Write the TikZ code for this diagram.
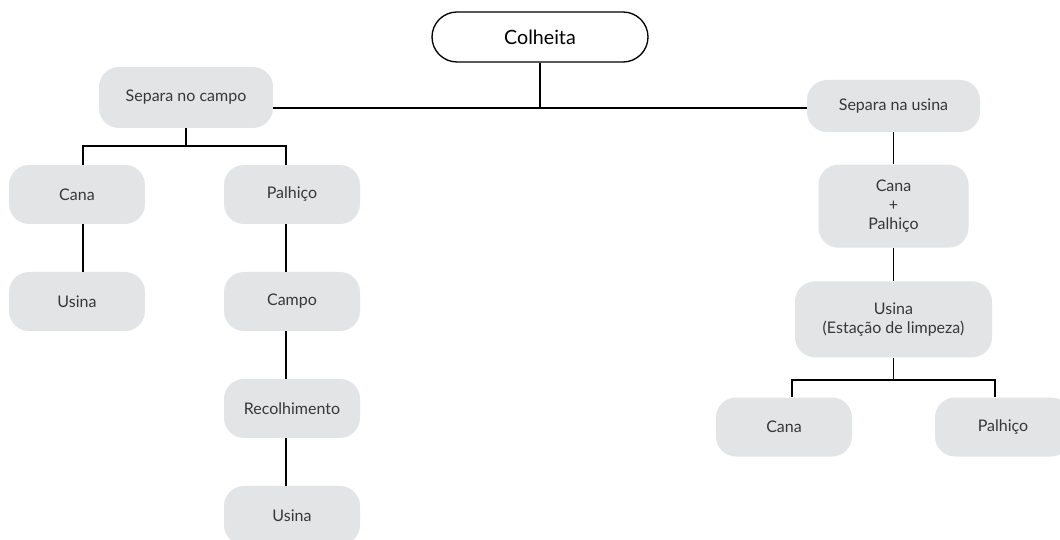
\documentclass[tikz,border=0pt]{standalone}
\usepackage{fontspec}
\setmainfont{Lato}
\usetikzlibrary{positioning}
\definecolor{boxgray}{RGB}{227, 228, 229}
\definecolor{textgray}{RGB}{55, 55, 55}

\tikzset{
  rootbox/.style={draw, line width=0.8pt, rounded corners=15pt, fill=white, text=black,
    minimum width=129.6pt, minimum height=30pt, inner sep=0pt, font=\fontsize{11.8}{13}\selectfont},
  stagebox/.style={fill=boxgray, rounded corners=12pt, text=textgray, align=center,
    minimum width=81.6pt, minimum height=35.4pt, inner sep=0pt},
  link/.style={line width=0.8pt, black}
}

\begin{document}
\begin{tikzpicture}[x=0.6pt, y=-0.6pt, node distance=28.4pt, font=\fontsize{9.6}{11.5}\selectfont]
  \useasboundingbox (0,0) rectangle (1060,540);

  % top of the tree
  \node[rootbox] (colheita) at (540,37) {Colheita};
  \node[stagebox, minimum width=104.4pt, minimum height=36.6pt] (nocampo) at (186,97.5) {Separa no campo};
  \node[stagebox, minimum width=103.8pt, minimum height=31.2pt] (nausina) at (893.5,106) {Separa na usina};
  \coordinate (split) at (540,108);
  \draw[link] (colheita) -- (split);
  \draw[link] (nocampo.east |- split) -- (nausina.west |- split);

  % separa no campo
  \node[stagebox] (cana1) at (77,194.5) {Cana};
  \node[stagebox] (palha1) at (292,194.5) {Palhiço};
  \node[stagebox, below=of cana1] (usina1) {Usina};
  \node[stagebox, below=of palha1] (campo2) {Campo};
  \node[stagebox, below=of campo2] (recolh) {Recolhimento};
  \node[stagebox, below=of recolh] (usina2) {Usina};
  \coordinate (lbar) at (186,146);
  \coordinate (lbarl) at (83,146);
  \coordinate (lbarr) at (286,146);
  \draw[link] (nocampo.south) -- (lbar);
  \draw[link] (cana1.north -| lbarl) -- (lbarl) -- (lbarr) -- (palha1.north -| lbarr);
  \draw[link] (cana1.south -| lbarl) -- (usina1.north -| lbarl);
  \foreach \a/\b in {palha1/campo2, campo2/recolh, recolh/usina2}
    \draw[link] (\a.south -| lbarr) -- (\b.north -| lbarr);

  % separa na usina
  \node[stagebox, minimum width=90pt, minimum height=49.8pt, below=19.2pt of nausina] (mistura) {Cana\\+\\Palhiço};
  \node[stagebox, minimum width=118.2pt, minimum height=45.6pt, below=19.8pt of mistura] (limpeza) {Usina\\(Estação de limpeza)};
  \node[stagebox] (cana3) at (784,427) {Cana};
  \node[stagebox] (palha3) at (1003,427) {Palhiço};
  \coordinate (rbar) at (893.5,380);
  \coordinate (rbarl) at (792,380);
  \coordinate (rbarr) at (995,380);
  \draw[link] (nausina) -- (mistura);
  \draw[link] (mistura) -- (limpeza);
  \draw[link] (limpeza.south) -- (rbar);
  \draw[link] (cana3.north -| rbarl) -- (rbarl) -- (rbarr) -- (palha3.north -| rbarr);
\end{tikzpicture}
\end{document}
